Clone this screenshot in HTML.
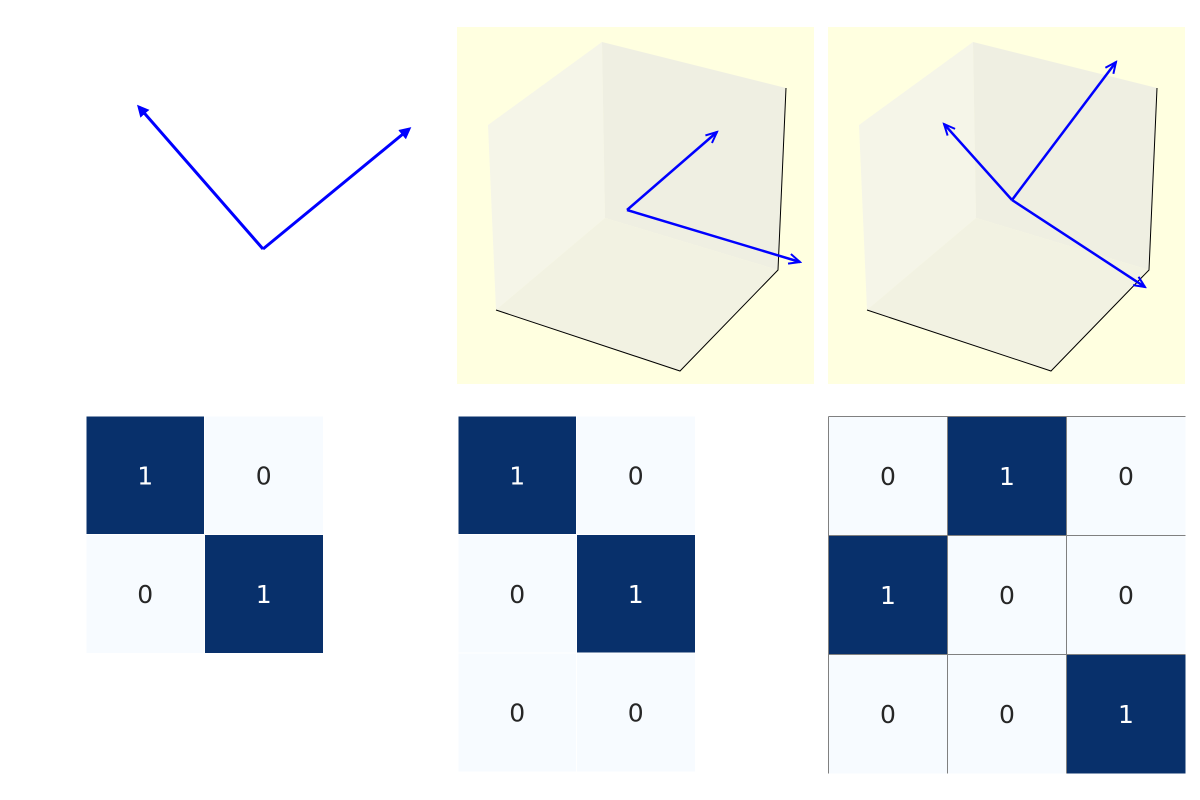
<!DOCTYPE html>
<html><head><meta charset="utf-8"><style>
html,body{margin:0;padding:0;background:#fff;width:1200px;height:800px;overflow:hidden}
svg text{font-family:"DejaVu Sans","Liberation Sans",sans-serif;font-size:25px}
</style></head><body>
<svg id="fig" width="1200" height="800" viewBox="0 0 1200 800" xmlns="http://www.w3.org/2000/svg">
<defs>
<marker id="tri" markerWidth="12" markerHeight="12" refX="9" refY="6" orient="auto" markerUnits="userSpaceOnUse" viewBox="0 0 12 12"><path d="M0,0 L12,6 L0,12 z" fill="#0000ff"/></marker>
<marker id="open" markerWidth="14" markerHeight="12" refX="12" refY="6" orient="auto" markerUnits="userSpaceOnUse" viewBox="0 0 14 12"><path d="M1,1 L12,6 L1,11" fill="none" stroke="#0000ff" stroke-width="2"/></marker>
</defs>
<g id="plots"></g>
</svg>
<script>
// 2D vectors
const vec2dOrigin = [263, 249];
const vec2dEnds = [[139, 107], [409, 129]];
// 3D panel 1 arrows
const vec3aOrigin = [627, 210];
const vec3aEnds = [[717, 132], [800, 262]];
// 3D panel 2 arrows
const vec3bOrigin = [1012, 200];
const vec3bEnds = [[1116, 62], [944, 124], [1145, 287]];
// heatmaps
const heat1 = [[1,0],[0,1]];
const heat2 = [[1,0],[0,1],[0,0]];
const heat3 = [[0,1,0],[1,0,0],[0,0,1]];

const NS = "http://www.w3.org/2000/svg";
const g = document.getElementById('plots');
function mk(tag, attrs, parent){const e=document.createElementNS(NS,tag);for(const k in attrs)e.setAttribute(k,attrs[k]);(parent||g).appendChild(e);return e;}

vec2dEnds.forEach((p,i)=>{
  const l=mk('line',{x1:vec2dOrigin[0],y1:vec2dOrigin[1],x2:p[0],y2:p[1],stroke:'#0000ff','stroke-width':3,'marker-end':'url(#tri)'});
  
  
});

function panel3d(dx, origin, ends, idx){
  const pg=mk('g',{});
  
  
  const bg=mk('g',{transform:'translate('+dx+',0)'},pg);
  mk('rect',{x:457,y:27,width:357,height:357,fill:'#ffffe0'},bg);
  mk('polygon',{points:'488,125 602,42 605,218 496,310',fill:'#f5f5e8'},bg);
  mk('polygon',{points:'602,42 786,88 778,270 605,218',fill:'#efefe2'},bg);
  mk('polygon',{points:'496,310 605,218 778,270 680,371',fill:'#f2f2e2'},bg);
  mk('polyline',{points:'496,310 680,371 778,270 786,88',fill:'none',stroke:'#000','stroke-width':1},bg);
  ends.forEach((p,i)=>{
    const l=mk('line',{x1:origin[0],y1:origin[1],x2:p[0],y2:p[1],stroke:'#0000ff','stroke-width':2.5,'marker-end':'url(#open)'},pg);
    
    
  });
}
panel3d(0, vec3aOrigin, vec3aEnds, 1);
panel3d(371, vec3bOrigin, vec3bEnds, 2);

function heatmap(data, x0, y0, cell, grid, idx){
  const hg=mk('g',{});
  
  
  data.forEach((row,r)=>row.forEach((v,c)=>{
    const x=x0+c*cell, y=y0+r*cell;
    const rc=mk('rect',{x:x,y:y,width:cell,height:cell,fill:v>0.5?'#08306b':'#f7fbff'},hg);
    
    
  }));
  const rows=data.length, cols=data[0].length;
  for(let c=0;c<cols;c++) mk('line',{x1:x0+c*cell,y1:y0,x2:x0+c*cell,y2:y0+rows*cell,stroke:grid,'stroke-width':1},hg);
  for(let r=0;r<rows;r++) mk('line',{x1:x0,y1:y0+r*cell,x2:x0+cols*cell,y2:y0+r*cell,stroke:grid,'stroke-width':1},hg);
  data.forEach((row,r)=>row.forEach((v,c)=>{
    const x=x0+c*cell, y=y0+r*cell;
    const t=mk('text',{x:x+cell/2,y:y+cell/2+9,'text-anchor':'middle',fill:v>0.5?'#ffffff':'#262626'},hg);
    t.textContent=String(v);
    
    
  }));
}
heatmap(heat1, 86, 416, 118.5, '#ffffff', 1);
heatmap(heat2, 458, 416, 118.5, '#ffffff', 2);
heatmap(heat3, 828.5, 416.5, 119, '#808080', 3);
</script>
</body></html>
